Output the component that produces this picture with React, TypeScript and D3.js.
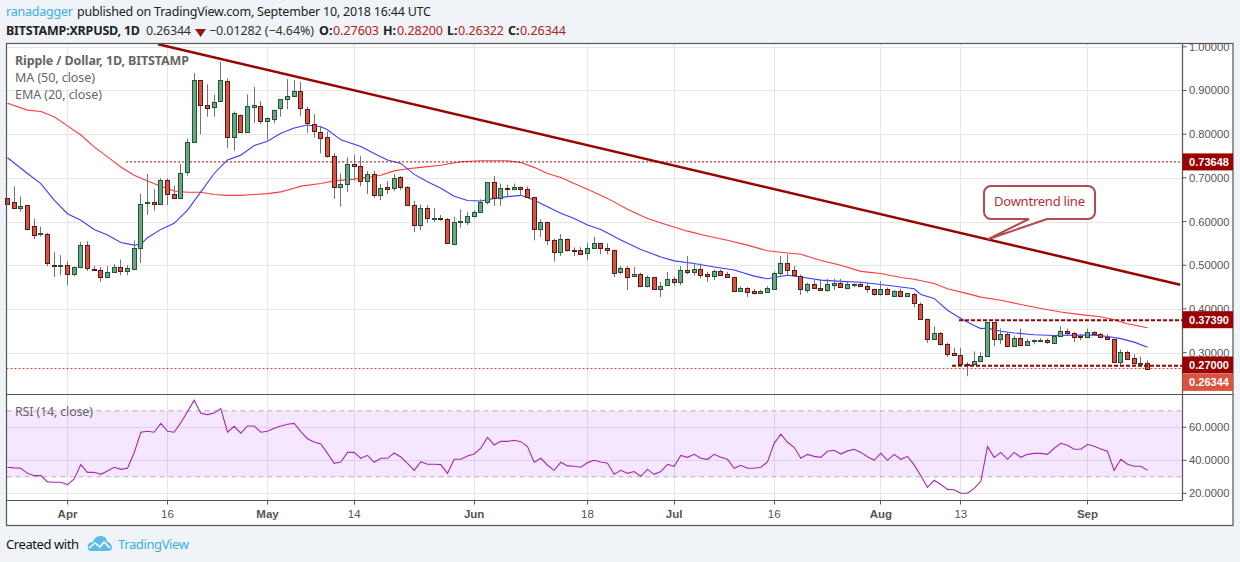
import React from 'react';
import * as d3 from 'd3';

// day 0 is 23 Mar 2018, day 171 is 10 Sep 2018
const openPrices = [
  .653,.644,.630,.638,.589,.572,.572,.501,.498,.501,
  .479,.495,.547,.492,.490,.473,.485,.497,.487,.492,
  .540,.643,.644,.641,.694,.664,.654,.714,.783,.923,
  .866,.863,.875,.921,.794,.845,.806,.863,.865,.831,
  .834,.859,.880,.887,.899,.857,.823,.804,.793,.749,
  .678,.685,.731,.726,.692,.708,.660,.678,.676,.701,
  .678,.639,.591,.630,.605,.609,.605,.549,.600,.600,
  .612,.621,.644,.690,.655,.676,.674,.678,.674,.657,
  .584,.600,.557,.531,.559,.534,.534,.528,.540,.550,
  .540,.534,.485,.493,.476,.481,.452,.472,.446,.455,
  .469,.462,.490,.485,.492,.479,.476,.486,.479,.474,
  .441,.449,.440,.437,.439,.446,.483,.506,.490,.476,
  .444,.456,.449,.443,.455,.460,.448,.455,.458,.453,
  .446,.434,.446,.430,.442,.430,.435,.412,.378,.332,
  .346,.320,.300,.295,.274,.274,.281,.292,.369,.330,
  .343,.316,.333,.317,.327,.327,.329,.323,.339,.350,
  .345,.338,.335,.347,.343,.336,.332,.279,.302,.288,
  .276,.27603,
];
const highPrices = [
  .653,.680,.657,.638,.607,.588,.574,.530,.523,.509,
  .497,.553,.555,.498,.496,.498,.502,.513,.500,.557,
  .664,.709,.674,.699,.699,.683,.732,.790,.940,.923,
  .914,.890,.966,.928,.852,.845,.891,.908,.876,.838,
  .856,.880,.926,.924,.920,.863,.846,.819,.806,.756,
  .710,.747,.752,.750,.716,.716,.686,.693,.709,.704,
  .681,.647,.639,.638,.631,.615,.608,.611,.628,.622,
  .626,.651,.690,.704,.687,.684,.687,.680,.680,.657,
  .605,.600,.561,.571,.561,.541,.541,.552,.565,.550,
  .550,.536,.498,.498,.496,.483,.477,.473,.462,.485,
  .473,.498,.521,.506,.504,.485,.490,.490,.485,.474,
  .452,.450,.446,.444,.452,.486,.521,.525,.498,.479,
  .460,.466,.466,.469,.469,.469,.462,.458,.462,.460,
  .446,.463,.449,.443,.446,.437,.437,.415,.378,.360,
  .347,.323,.311,.311,.278,.303,.301,.371,.369,.355,
  .346,.339,.355,.332,.330,.333,.332,.339,.360,.355,
  .347,.343,.355,.349,.345,.342,.332,.307,.304,.296,
  .291,.28200,
];
const lowPrices = [
  .641,.632,.622,.580,.560,.566,.498,.473,.477,.454,
  .475,.493,.487,.487,.462,.472,.485,.477,.477,.490,
  .505,.615,.625,.638,.638,.653,.653,.705,.783,.800,
  .840,.840,.875,.768,.762,.806,.806,.826,.823,.787,
  .825,.840,.857,.886,.842,.803,.792,.756,.746,.652,
  .634,.668,.693,.681,.663,.655,.649,.663,.670,.672,
  .639,.576,.580,.597,.599,.602,.549,.547,.586,.592,
  .609,.619,.639,.636,.636,.657,.672,.660,.657,.557,
  .565,.546,.508,.521,.531,.521,.524,.511,.538,.525,
  .525,.473,.479,.443,.473,.453,.449,.445,.427,.454,
  .453,.454,.479,.476,.470,.462,.466,.478,.473,.441,
  .440,.427,.433,.435,.438,.445,.476,.477,.475,.432,
  .437,.447,.443,.439,.443,.448,.445,.450,.453,.437,
  .430,.430,.432,.427,.430,.430,.404,.378,.322,.332,
  .316,.290,.295,.273,.246,.273,.278,.292,.315,.320,
  .315,.315,.314,.316,.319,.324,.320,.322,.338,.339,
  .324,.328,.335,.342,.335,.330,.279,.271,.284,.273,
  .267,.26322,
];
const closePrices = [
  .641,.632,.635,.584,.569,.573,.504,.498,.501,.479,
  .495,.547,.494,.489,.473,.485,.497,.487,.493,.540,
  .641,.645,.641,.694,.662,.654,.712,.781,.923,.866,
  .861,.873,.923,.794,.848,.806,.864,.866,.831,.836,
  .856,.880,.887,.898,.859,.825,.807,.792,.749,.678,
  .685,.731,.728,.692,.708,.660,.676,.675,.699,.678,
  .639,.593,.630,.607,.609,.605,.550,.600,.601,.612,
  .621,.644,.690,.655,.676,.674,.678,.674,.657,.584,
  .600,.557,.531,.559,.534,.532,.526,.540,.550,.540,
  .534,.482,.493,.473,.481,.453,.472,.446,.453,.469,
  .462,.490,.485,.492,.478,.476,.486,.478,.473,.442,
  .449,.439,.437,.440,.447,.483,.506,.489,.477,.446,
  .456,.448,.443,.458,.460,.450,.456,.458,.453,.446,
  .434,.446,.433,.442,.430,.436,.414,.378,.332,.346,
  .319,.297,.295,.274,.273,.281,.293,.369,.330,.343,
  .316,.333,.317,.327,.328,.329,.325,.338,.350,.345,
  .335,.335,.348,.342,.336,.332,.279,.302,.285,.276,
  .277,.26344,
];

const emaDays = [0,3,5,7,9,11,13,15,17,19,20,21,23,25,27,29,31,33,35,37,39,41,43,45,47,48,50,53,55,57,59,61,63,65,67,69,71,73,75,77,78,79,81,83,85,87,89,92,95,98,100,103,106,109,112,114,115,117,119,122,125,128,131,134,136,137,139,141,143,145,146,147,149,151,154,157,160,163,165,167,169,171];
const emaValues = [.746,.710,.687,.649,.618,.603,.582,.569,.552,.546,.548,.563,.582,.596,.626,.668,.710,.741,.752,.774,.784,.802,.814,.821,.817,.810,.787,.772,.756,.741,.733,.708,.691,.676,.658,.648,.647,.653,.657,.660,.655,.649,.634,.619,.607,.592,.582,.558,.536,.519,.510,.504,.496,.489,.475,.469,.472,.477,.473,.466,.463,.461,.456,.450,.446,.433,.424,.397,.378,.362,.355,.356,.349,.345,.341,.339,.340,.340,.337,.332,.324,.312];
const maDays = [0,3,5,7,9,11,13,15,17,19,21,23,25,27,29,31,33,35,37,39,41,43,44,47,49,52,54,56,58,60,62,65,68,71,73,75,77,79,81,83,85,87,90,93,96,99,102,105,108,111,114,117,119,122,125,128,131,134,136,139,141,144,146,149,152,155,158,161,164,166,168,171];
const maValues = [.871,.855,.852,.840,.819,.798,.771,.748,.725,.706,.693,.681,.670,.667,.667,.662,.660,.660,.662,.664,.668,.676,.681,.687,.693,.697,.701,.706,.716,.721,.724,.729,.737,.739,.739,.739,.735,.724,.710,.701,.687,.674,.653,.628,.607,.592,.578,.567,.557,.546,.533,.528,.525,.511,.500,.486,.481,.472,.468,.458,.446,.435,.427,.420,.410,.401,.393,.387,.382,.375,.366,.357];
const rsiValues = [
  35.8,35.4,35.2,32.1,30.7,30.7,26.9,26.7,26.7,25.3,
  28.7,37.4,32.7,32.7,31.5,33.5,35.8,34.5,35.2,44.6,
  57,57.6,57,62.4,57.6,57,62.8,69.5,76.4,68.5,
  67.7,68.7,71.3,57,60.6,56.4,60.8,60.8,57,57.6,
  59.4,60.8,61.8,62.4,57.4,53.1,51.1,49.9,44.2,38.2,
  39,44.8,44.8,41.2,43,38.8,41.2,41.2,44.4,42,
  38.2,33.9,39.2,37.6,37.6,37.4,32.1,40.6,40.6,42.6,
  43.8,47.3,53.9,49.3,51.5,51.5,52.1,51.3,48.3,38.8,
  41.2,37,33.9,38.8,36.6,36.4,35.8,38.6,40,39,
  38.2,31.5,33.9,32.1,33.2,30.3,34.5,31.5,33.2,37.6,
  36.4,43,41.8,43.6,41.2,40.6,43.6,41.8,40.6,35.2,
  37,35.2,35.2,35.8,39,50.3,55.8,50.9,47.9,41.2,
  43.6,42.4,41.8,45.5,46.1,43.8,45.7,46.7,44.8,42.2,
  40,44.2,40,43.6,40.6,42.4,37.2,30.6,23.6,27.9,
  25.3,22.4,22.2,20,20,23,27.3,48.3,41.8,44.8,
  40.6,44.8,41.8,43.6,44.2,44.2,43.6,47.3,50.3,49.1,
  46.7,46.7,49.7,48.5,46.9,45.5,33.9,40.6,37.6,36.4,
  36.4,33.9,
];

const timeTicks = [
  { day: 9, label: 'Apr', month: true },
  { day: 24, label: '16', month: false },
  { day: 39, label: 'May', month: true },
  { day: 52, label: '14', month: false },
  { day: 70, label: 'Jun', month: true },
  { day: 87, label: '18', month: false },
  { day: 100, label: 'Jul', month: true },
  { day: 115, label: '16', month: false },
  { day: 131, label: 'Aug', month: true },
  { day: 143, label: '13', month: false },
  { day: 162, label: 'Sep', month: true },
];
const priceTicks = [1, .9, .8, .7, .6, .5, .4, .3];
const rsiTicks = [60, 40, 20];

const trendDays = [22.6, 175.9];
const trendPrices = [1.006, .4555];
const resistance = .3739;
const support = .27;
const oldHigh = .73648;
const lastPrice = .26344;

const W = 1240;
const H = 562;
const left = 6.5;
const right = 1233;
const axisX = 1182.5;
const top = 43.5;
const paneBottom = 394.5;
const timeY = 500.5;
const bottom = 525.5;

const sans = 'Arial, "Liberation Sans", sans-serif';
const uiFont = '"Noto Sans", sans-serif';

const x = d3.scaleLinear().domain([0, 171]).range([7.5, 1147.5]);
const y = d3.scaleLinear().domain([1, .3]).range([46.8, 352.6]);
const rsiY = d3.scaleLinear().domain([60, 20]).range([427.3, 493.3]);

const priceLine = d3.line<number>().x((_, i) => x(emaDays[i])).y(d => y(d));
const maLine = d3.line<number>().x((_, i) => x(maDays[i])).y(d => y(d));
const rsiLine = d3.line<number>().x((_, i) => x(i)).y(d => rsiY(d));

const fmt = d3.format('.5f');

const PriceTag = ({ price, cy, color }: { price: number; cy: number; color: string }) => (
  <g>
    <rect x={axisX} y={cy - 8.5} width={right - axisX} height={17} fill={color} />
    <text x={1209} y={cy + 4} textAnchor="middle" fontFamily={sans} fontSize={11} fontWeight="bold" fill="#fff">
      {fmt(price)}
    </text>
  </g>
);

export default function App() {
  return (
    <svg
      width={W}
      height={H}
      style={{ position: 'absolute', left: 0, top: 0, display: 'block' }}
    >
      <rect width={W} height={H} fill="#f0f3f7" />

      {/* header */}
      <text y={16} fontFamily={uiFont} fontSize={12.5}>
        <tspan x={6} fill="#39b0e6" textLength={67}>ranadagger</tspan>
      </text>
      <text x={77} y={16} fontFamily={uiFont} fontSize={12.5} fill="#222" textLength={354}>
        published on TradingView.com, September 10, 2018 16:44 UTC
      </text>
      <g fontFamily={uiFont} fontSize={12.5}>
        <text x={6} y={35} fontWeight="bold" fill="#222" textLength={134}>BITSTAMP:XRPUSD, 1D</text>
        <text x={146} y={35} fill="#333" textLength={45}>0.26344</text>
        <path d={d3.line()([[195, 29], [206, 29], [200.5, 37]]) + 'Z'} fill="#991515" />
        <text x={209} y={35} fill="#333" textLength={105}>−0.01282 (−4.64%)</text>
        <text x={319} y={35} fontWeight="bold" fill="#222">O:</text>
        <text x={333} y={35} fill="#b52020" textLength={46}>0.27603</text>
        <text x={383} y={35} fontWeight="bold" fill="#222">H:</text>
        <text x={397} y={35} fill="#b52020" textLength={46}>0.28200</text>
        <text x={447} y={35} fontWeight="bold" fill="#222">L:</text>
        <text x={458} y={35} fill="#b52020" textLength={46}>0.26322</text>
        <text x={508} y={35} fontWeight="bold" fill="#222">C:</text>
        <text x={520} y={35} fill="#b52020" textLength={46}>0.26344</text>
      </g>

      <rect x={left} y={top} width={right - left} height={bottom - top} fill="#fff" />

      {/* grid */}
      <g stroke="#e6e6e6" strokeWidth={1}>
        {priceTicks.map(t => (
          <line key={t} x1={left} x2={axisX} y1={Math.round(y(t)) + .5} y2={Math.round(y(t)) + .5} />
        ))}
        {rsiTicks.map(t => (
          <line key={t} x1={left} x2={axisX} y1={Math.round(rsiY(t)) + .5} y2={Math.round(rsiY(t)) + .5} />
        ))}
        {timeTicks.map(t => (
          <g key={t.day}>
            <line x1={Math.floor(x(t.day)) + .5} x2={Math.floor(x(t.day)) + .5} y1={top} y2={paneBottom} />
            <line x1={Math.floor(x(t.day)) + .5} x2={Math.floor(x(t.day)) + .5} y1={paneBottom} y2={timeY} />
          </g>
        ))}
      </g>

      {/* rsi pane */}
      <rect x={left} y={rsiY(70)} width={axisX - left} height={rsiY(30) - rsiY(70)} fill="#9915ff" opacity={.1} />
      <g stroke="#bba8c6" strokeWidth={1} strokeDasharray="5 4">
        <line x1={left} x2={axisX} y1={rsiY(70)} y2={rsiY(70)} />
        <line x1={left} x2={axisX} y1={rsiY(30)} y2={rsiY(30)} />
      </g>
      <path d={rsiLine(rsiValues) || ''} fill="none" stroke="#a52ab5" strokeWidth={1.1} />

      {/* moving averages */}
      <path d={maLine(maValues) || ''} fill="none" stroke="#ff3a3a" strokeWidth={1.1} />
      <path d={priceLine(emaValues) || ''} fill="none" stroke="#3d3dff" strokeWidth={1.1} />

      {/* last price line */}
      <line x1={left} x2={axisX} y1={y(lastPrice)} y2={y(lastPrice)} stroke="#c8402f" strokeWidth={1} strokeDasharray="2 2" />
      <line x1={x(17.8)} x2={axisX} y1={y(oldHigh)} y2={y(oldHigh)} stroke="#8b0000" strokeWidth={1} strokeDasharray="2 2" />

      {/* candles */}
      {closePrices.map((c, i) => {
        const o = openPrices[i];
        const up = c >= o;
        const cx = Math.round(x(i) - .5) + .5;
        const yTop = Math.round(y(Math.max(o, c))) + .5;
        const yBottom = Math.round(y(Math.min(o, c))) + .5;
        return (
          <g key={i}>
            <line x1={cx} x2={cx} y1={y(highPrices[i])} y2={y(lowPrices[i])} stroke="#737375" strokeWidth={1} />
            <rect
              x={cx - 2}
              y={yTop}
              width={4}
              height={Math.max(yBottom - yTop, 1)}
              fill={up ? '#6ba583' : '#d75442'}
              stroke={up ? '#225437' : '#5b1a13'}
              strokeWidth={1}
            />
          </g>
        );
      })}

      {/* drawings */}
      <line
        x1={x(trendDays[0])} x2={x(trendDays[1])}
        y1={y(trendPrices[0])} y2={y(trendPrices[1])}
        stroke="#990000" strokeWidth={2.5}
      />
      <line x1={959} x2={axisX} y1={y(resistance)} y2={y(resistance)} stroke="#990000" strokeWidth={2} strokeDasharray="4 2" />
      <line x1={952} x2={axisX} y1={y(support)} y2={y(support)} stroke="#990000" strokeWidth={2} strokeDasharray="4 2" />

      {/* callout */}
      <path
        d="M991 186H1088a7 7 0 0 1 7 7V212a7 7 0 0 1 -7 7H1047L987.5 239.5L1029 219H991a7 7 0 0 1 -7 -7V193a7 7 0 0 1 7 -7Z"
        fill="#fff" stroke="#b24a4f" strokeWidth={2}
      />
      <text x={1039.5} y={206} textAnchor="middle" fontFamily={uiFont} fontSize={13} fill="#b0303a" textLength={91}>
        Downtrend line
      </text>

      {/* frame */}
      <g fill="none" stroke="#555" strokeWidth={1.2}>
        <rect x={left} y={top} width={right - left} height={bottom - top} />
        <line x1={left} x2={right} y1={paneBottom} y2={paneBottom} />
        <line x1={left} x2={axisX} y1={timeY} y2={timeY} />
        <line x1={axisX} x2={axisX} y1={top} y2={timeY} />
      </g>

      {/* price axis */}
      <g fontFamily={sans} fontSize={11.2} fill="#555">
        {priceTicks.map(t => (
          <g key={t}>
            <line x1={axisX} x2={axisX + 4} y1={y(t)} y2={y(t)} stroke="#555" />
            <text x={1189} y={y(t) + 4}>{fmt(t)}</text>
          </g>
        ))}
        {rsiTicks.map(t => (
          <g key={t}>
            <line x1={axisX} x2={axisX + 4} y1={rsiY(t)} y2={rsiY(t)} stroke="#555" />
            <text x={1189} y={rsiY(t) + 4}>{d3.format('.4f')(t)}</text>
          </g>
        ))}
      </g>
      <PriceTag price={oldHigh} cy={y(oldHigh)} color="#990000" />
      <PriceTag price={resistance} cy={319.7} color="#990000" />
      <PriceTag price={support} cy={365} color="#990000" />
      <PriceTag price={lastPrice} cy={382.4} color="#d9543f" />

      {/* time axis */}
      <g fontFamily={sans} fontSize={11.5} fill="#555" textAnchor="middle">
        {timeTicks.map(t => (
          <g key={t.day}>
            <line x1={Math.floor(x(t.day)) + .5} x2={Math.floor(x(t.day)) + .5} y1={timeY} y2={timeY + 4} stroke="#555" />
            <text x={x(t.day)} y={518} fontWeight={t.month ? 'bold' : 'normal'}>{t.label}</text>
          </g>
        ))}
      </g>

      {/* pane legends */}
      <g fontFamily={uiFont} fontSize={12.5} fill="#666">
        <text x={15} y={65} fontWeight="bold" textLength={174}>Ripple / Dollar, 1D, BITSTAMP</text>
        <text x={15} y={82} textLength={80}>MA (50, close)</text>
        <text x={15} y={99} textLength={87}>EMA (20, close)</text>
        <text x={15} y={416} textLength={78}>RSI (14, close)</text>
      </g>

      {/* footer */}
      <text x={6} y={549} fontFamily={uiFont} fontSize={13} fill="#111" textLength={73}>Created with</text>
      <path
        d="M88 548C87 544 90 542 93 542C94 538 97 536 101 536C105 536 107 539 107 542C110 542 112 545 112 548C112 550 110 551 108 551H91C89 551 88 550 88 548Z"
        fill="#5cbcea"
      />
      <path d="M89 548L95 543L100 547L104 542L110 548" fill="none" stroke="#fff" strokeWidth={1.6} />
      <text x={118} y={549} fontFamily={uiFont} fontSize={13} fill="#39b0e6" textLength={71}>TradingView</text>
    </svg>
  );
}
